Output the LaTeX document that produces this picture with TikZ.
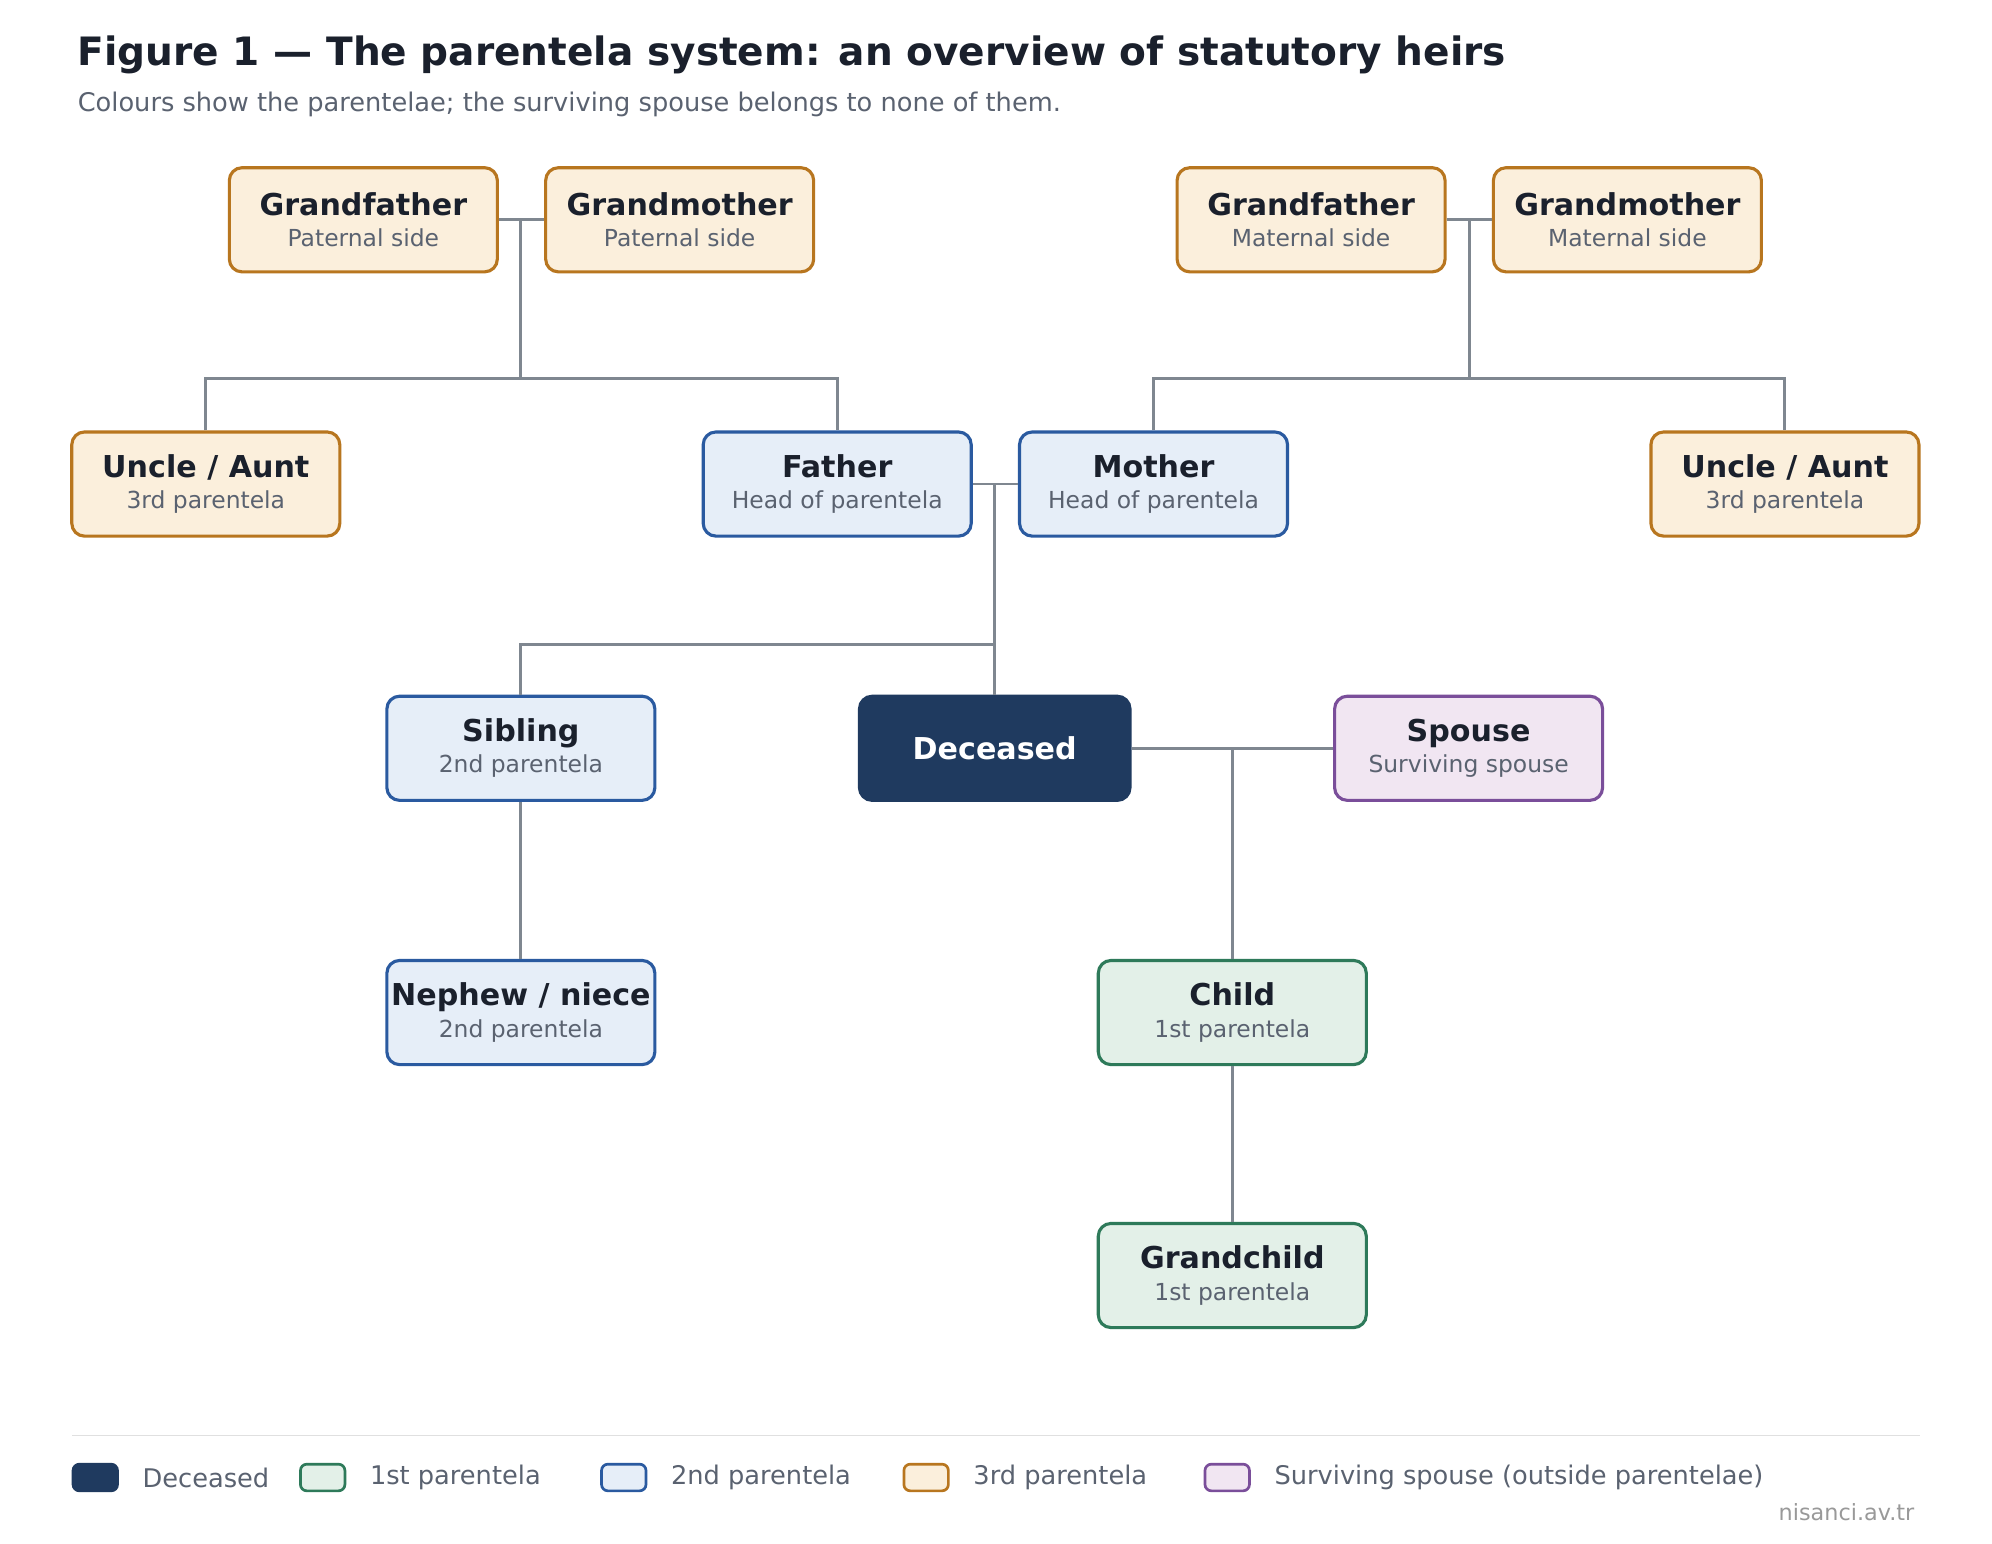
\documentclass[tikz,border=0pt]{standalone}
\usepackage{fontspec}
\setmainfont{DejaVu Sans}
\usetikzlibrary{positioning}
\definecolor{inkc}{HTML}{1A202C}
\definecolor{subc}{HTML}{5A6270}
\definecolor{linec}{HTML}{7F8790}
\definecolor{deadc}{HTML}{1F3A5F}
\definecolor{orgb}{HTML}{B8761F}\definecolor{orgf}{HTML}{FBEFDC}
\definecolor{blub}{HTML}{2A5AA0}\definecolor{bluf}{HTML}{E6EEF8}
\definecolor{grnb}{HTML}{2E7A5A}\definecolor{grnf}{HTML}{E3F0E8}
\definecolor{purb}{HTML}{7A4E9A}\definecolor{purf}{HTML}{F1E6F2}
\tikzset{
  box/.style={draw, rounded corners=0.2cm, line width=1.4pt, minimum width=4.22cm,
    minimum height=1.64cm, align=center, text=inkc, inner sep=0pt},
  third/.style={box, draw=orgb, fill=orgf},
  second/.style={box, draw=blub, fill=bluf},
  first/.style={box, draw=grnb, fill=grnf},
  spouse/.style={box, draw=purb, fill=purf},
  dead/.style={box, draw=deadc, fill=deadc, text=white, minimum width=4.26cm},
  link/.style={draw=linec, line width=1.3pt},
  swatch/.style={draw, rounded corners=0.1cm, line width=1.2pt, minimum width=0.7cm, minimum height=0.42cm, inner sep=0pt},
  legtext/.style={anchor=west, text=subc, font=\fontsize{11.5}{13}\selectfont}
}
\newcommand{\heir}[5]{\node[#1] (#2) at #3 {{\fontsize{13.5}{16}\selectfont\bfseries #4}\\[2pt]{\fontsize{10.5}{13}\selectfont\color{subc}#5}};}
\begin{document}
\begin{tikzpicture}[x=0.02cm,y=-0.02cm]
\useasboundingbox[fill=white] (0,0) rectangle (1568,1215);
% title
\node[anchor=west, text=inkc, font=\fontsize{17.5}{20}\selectfont\bfseries] (title) at (55,43) {Figure 1 — The parentela system: an overview of statutory heirs};
\node[anchor=west, text=subc, font=\fontsize{11.5}{14}\selectfont] (subtitle) at (55,82) {Colours show the parentelae; the surviving spouse belongs to none of them.};
% people
\heir{third}{gfp}{(286,173)}{Grandfather}{Paternal side}
\heir{third}{gmp}{(535,173)}{Grandmother}{Paternal side}
\heir{third}{gfm}{(1032,173)}{Grandfather}{Maternal side}
\heir{third}{gmm}{(1281,173)}{Grandmother}{Maternal side}
\heir{third}{unclel}{(162,381)}{Uncle / Aunt}{3rd parentela}
\heir{second}{father}{(659,381)}{Father}{Head of parentela}
\heir{second}{mother}{(908,381)}{Mother}{Head of parentela}
\heir{third}{uncler}{(1405,381)}{Uncle / Aunt}{3rd parentela}
\heir{second}{sibling}{(410,589)}{Sibling}{2nd parentela}
\node[dead, font=\fontsize{13.5}{16}\selectfont\bfseries] (deceased) at (783,589) {Deceased};
\heir{spouse}{spouse}{(1156,589)}{Spouse}{Surviving spouse}
\heir{second}{nephew}{(410,797)}{Nephew / niece}{2nd parentela}
\heir{first}{child}{(970,797)}{Child}{1st parentela}
\heir{first}{grandchild}{(970,1004)}{Grandchild}{1st parentela}
% connectors
\coordinate (jp) at (410,173); \coordinate (jm) at (1157,173);
\coordinate (jf) at (783,381); \coordinate (js) at (970,589);
\draw[link] (gfp) -- (gmp);
\draw[link] (jp) -- (410,298);
\draw[link] (unclel.north) |- (410,298) -| (father.north);
\draw[link] (gfm) -- (gmm);
\draw[link] (jm) -- (1157,298);
\draw[link] (mother.north) |- (1157,298) -| (uncler.north);
\draw[link] (father) -- (mother);
\draw[link] (jf) -- (deceased.north);
\draw[link] (sibling.north) |- (783,507);
\draw[link] (deceased) -- (spouse);
\draw[link] (js) -- (child.north);
\draw[link] (sibling) -- (nephew);
\draw[link] (child) -- (grandchild);
% legend
\draw[draw=black!12, line width=0.8pt] (57,1130) -- (1511,1130);
\node[swatch, draw=deadc, fill=deadc] (l0) at (75,1163) {};
\node[legtext, right=0.25cm of l0] (t0) {Deceased};
\node[swatch, draw=grnb, fill=grnf] (l1) at (254,1163) {};
\node[legtext, right=0.25cm of l1] (t1) {1st parentela};
\node[swatch, draw=blub, fill=bluf] (l2) at (491,1163) {};
\node[legtext, right=0.25cm of l2] (t2) {2nd parentela};
\node[swatch, draw=orgb, fill=orgf] (l3) at (729,1163) {};
\node[legtext, right=0.25cm of l3] (t3) {3rd parentela};
\node[swatch, draw=purb, fill=purf] (l4) at (966,1163) {};
\node[legtext, right=0.25cm of l4] (t4) {Surviving spouse (outside parentelae)};
\node[anchor=east, text=black!40, font=\fontsize{10}{12}\selectfont] (site) at (1513,1190) {nisanci.av.tr};
\end{tikzpicture}
\end{document}
